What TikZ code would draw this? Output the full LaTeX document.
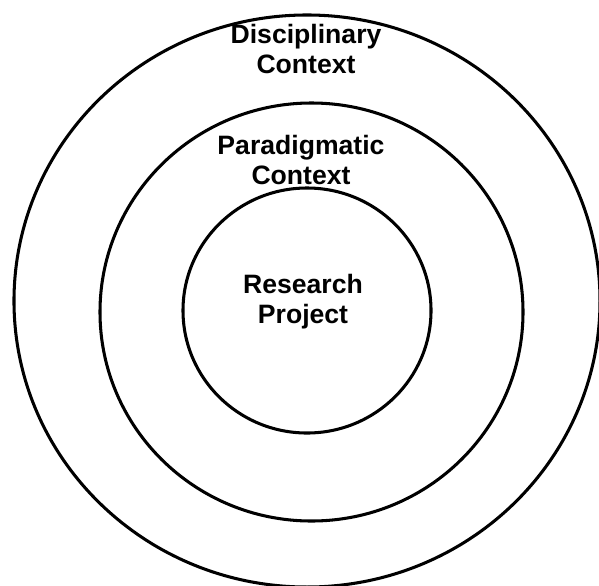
\documentclass[tikz,border=0pt]{standalone}
\usepackage{fontspec}
\setmainfont{Liberation Sans}
\usetikzlibrary{shapes.geometric}

\begin{document}
\begin{tikzpicture}[x=0.03cm, y=-0.03cm]
    \tikzstyle{ring} = [draw, ellipse, line width=2.6pt, inner sep=0pt]
    \tikzstyle{label} = [align=center, font=\fontsize{22.7}{25.6}\selectfont\bfseries]

    \useasboundingbox (0,0) rectangle (599,585);

    % the three nested contexts
    \node [ring, minimum width=17.58cm, minimum height=17.16cm] (discipline) at (307,301) {};
    \node [ring, minimum width=12.69cm, minimum height=12.54cm] (paradigm) at (311.5,312) {};
    \node [ring, minimum width=7.44cm, minimum height=7.35cm] (project) at (307,310.5) {};

    \node [label] (disctext) at (306,49) {Disciplinary\\Context};
    \node [label] (paratext) at (301,160) {Paradigmatic\\Context};
    \node [label] (projtext) at (303,302) {Research\\Project};
\end{tikzpicture}
\end{document}
